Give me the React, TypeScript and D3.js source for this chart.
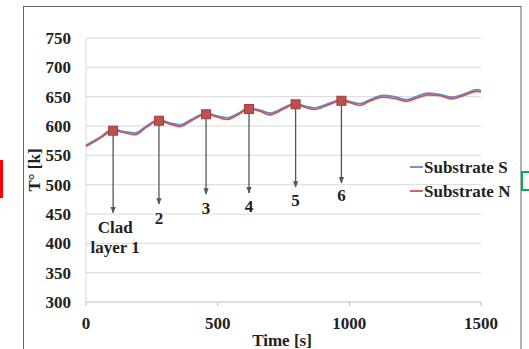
import React from "react";
import * as d3 from "d3";

const timeS = [0, 50, 103, 150, 186, 230, 277, 320, 357, 400, 456, 500, 535, 580, 619, 660, 699, 750, 796, 830, 869, 920, 970, 1000, 1040, 1080, 1127, 1170, 1218, 1260, 1298, 1340, 1390, 1440, 1484, 1500];
const substrateS = [567, 580, 594, 590, 588, 600, 611, 605, 602, 611, 622, 617, 614, 622, 631, 627, 622, 631, 639, 634, 631, 638, 645, 642, 638, 645, 652, 650, 645, 651, 656, 654, 649, 655, 662, 660];
const substrateN = [565, 578, 592, 588, 585, 598, 609, 603, 599, 609, 620, 615, 611, 620, 629, 625, 619, 629, 637, 632, 628, 636, 643, 640, 635, 643, 649, 647, 642, 648, 653, 652, 646, 653, 659, 658];

const markerTimes = [103, 277, 456, 619, 796, 970];
const markerValues = [592, 609, 620, 629, 637, 643];
const arrowEndValues = [452, 467, 484, 486, 496, 503];
const markerLabels = [["Clad", "layer 1"], ["2"], ["3"], ["4"], ["5"], ["6"]];
const labelValues = [428, 443, 460, 464, 474, 482];

const yTicks = [300, 350, 400, 450, 500, 550, 600, 650, 700, 750];
const xTicks = [0, 500, 1000, 1500];
const seriesNames = ["Substrate S", "Substrate N"];

const BLUE = "#5b8bd0";
const RED = "#d2504d";
const FONT = "'Liberation Serif', 'Times New Roman', serif";

export default function App() {
  const x = d3.scaleLinear().domain([0, 1500]).range([86, 481]);
  const y = d3.scaleLinear().domain([300, 750]).range([302, 38]);
  const lineS = d3.line<number>().x((_, i) => x(timeS[i])).y((d) => y(d)).curve(d3.curveMonotoneX);
  const lineN = d3.line<number>().x((_, i) => x(timeS[i])).y((d) => y(d)).curve(d3.curveMonotoneX);

  return (
    <svg width={529} height={349} style={{ position: "absolute", left: 0, top: 0, background: "#fff" }} fontFamily={FONT}>
      <defs>
        <marker id="ah" viewBox="0 0 10 10" refX="9" refY="5" markerWidth="5" markerHeight="6" orient="auto">
          <path d="M0,1 L10,5 L0,9 Z" fill="#555" />
        </marker>
      </defs>
      {/* frame */}
      <rect x={23.5} y={6.5} width={497.5} height={360} fill="none" stroke="#666" strokeWidth={1} />
      {/* decorations */}
      <rect x={0} y={160} width={3} height={38} fill="#ff0000" />
      <path d="M529,172 L522,172 L522,190 L529,190" fill="none" stroke="#00b050" strokeWidth={2} />

      {/* gridlines */}
      {yTicks.slice(1).map((t) => (
        <line key={t} x1={x(0)} x2={x(1500)} y1={y(t)} y2={y(t)} stroke="#d9d9d9" strokeWidth={1} />
      ))}
      <line x1={x(0)} x2={x(0)} y1={y(750)} y2={y(300)} stroke="#d9d9d9" />
      <line x1={x(0)} x2={x(1500)} y1={y(300)} y2={y(300)} stroke="#bfbfbf" />
      {xTicks.map((t) => (
        <line key={t} x1={x(t)} x2={x(t)} y1={y(300)} y2={y(300) + 4} stroke="#bfbfbf" />
      ))}

      {/* y tick labels */}
      {yTicks.map((t) => (
        <text key={t} x={71} y={y(t)} dy="0.35em" textAnchor="end" fontSize={17} fontWeight="bold" fill="#222">{t}</text>
      ))}
      {/* x tick labels */}
      {xTicks.map((t) => (
        <text key={t} x={x(t)} y={323} dy="0.35em" textAnchor="middle" fontSize={17} fontWeight="bold" fill="#222">{t}</text>
      ))}
      <text x={282} y={340} dy="0.35em" textAnchor="middle" fontSize={17} fontWeight="bold" fill="#222">Time [s]</text>
      <text transform="translate(34,170) rotate(-90)" textAnchor="middle" dy="0.35em" fontSize={17} fontWeight="bold" fill="#222">T° [k]</text>

      {/* lines */}
      <path d={lineS(substrateS) || ""} fill="none" stroke={BLUE} strokeWidth={1.8} />
      <path d={lineN(substrateN) || ""} fill="none" stroke={RED} strokeWidth={1.6} />

      {/* arrows */}
      {markerTimes.map((t, i) => (
        <line key={"a" + i} x1={x(t)} x2={x(t)} y1={y(markerValues[i])} y2={y(arrowEndValues[i])} stroke="#555" strokeWidth={1.3} markerEnd="url(#ah)" />
      ))}
      {markerTimes.map((t, i) => (
        <rect key={"m" + i} x={x(t) - 4.5} y={y(markerValues[i]) - 4.5} width={9} height={9} fill="#c0504d" stroke="#a33b38" strokeWidth={1} />
      ))}
      {markerTimes.map((t, i) =>
        markerLabels[i].map((lab, j) => (
          <text key={"l" + i + j} x={x(t) + (i === 0 ? 2 : 0)} y={y(labelValues[i]) + j * 20} dy="0.35em" textAnchor="middle" fontSize={17} fontWeight="bold" fill="#222">{lab}</text>
        ))
      )}

      {/* legend */}
      {seriesNames.map((n, i) => (
        <g key={n} transform={`translate(410,${167 + i * 24})`}>
          <line x1={0} x2={13} y1={0} y2={0} stroke={i === 0 ? BLUE : RED} strokeWidth={1.8} />
          <text x={14} y={0} dy="0.35em" fontSize={17} fontWeight="bold" fill="#222">{n}</text>
        </g>
      ))}
    </svg>
  );
}
